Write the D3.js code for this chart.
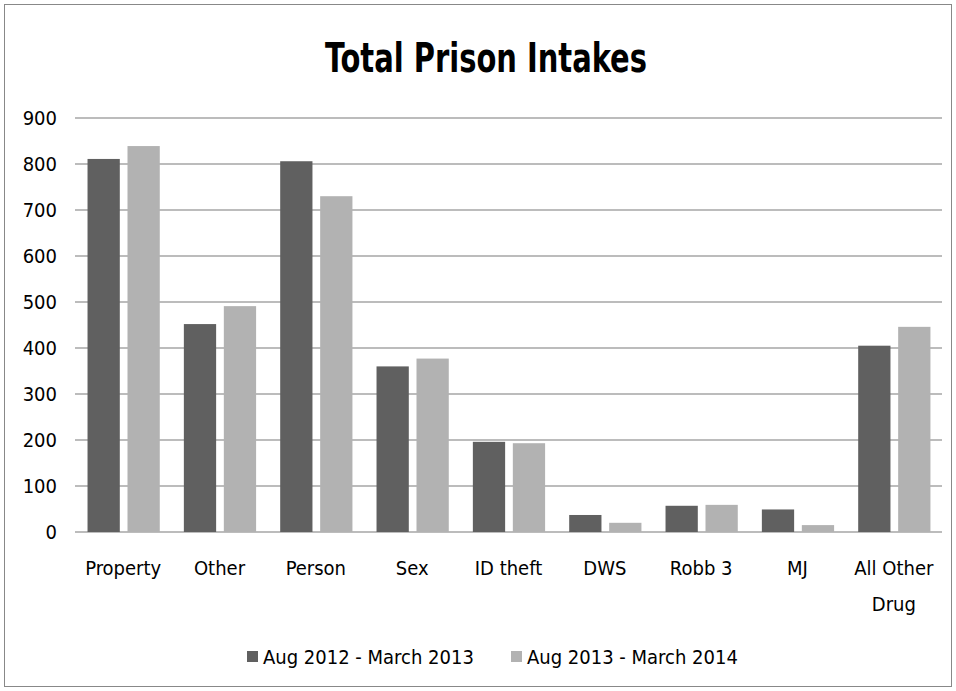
<!DOCTYPE html>
<html><head><meta charset="utf-8">
<script src="https://cdn.jsdelivr.net/npm/d3@7"></script>
<style>
body{margin:0;background:#fff;}
text{font-family:"Liberation Sans Narrow","DejaVu Sans Condensed","Open Sans",sans-serif;fill:#000;}
</style></head><body>
<svg id="c" width="956" height="691"></svg>
<script>
const categories = ["Property","Other","Person","Sex","ID theft","DWS","Robb 3","MJ","All Other Drug"];
const series1 = [811, 452, 806, 360, 196, 37, 57, 49, 405];
const series2 = [839, 491, 730, 377, 193, 20, 59, 15, 446];
const seriesNames = ["Aug 2012 - March 2013", "Aug 2013 - March 2014"];
const colors = ["#606060", "#b2b2b2"];
const yTicks = [0,100,200,300,400,500,600,700,800,900];

const svg = d3.select("#c");
svg.append("rect").attr("x",4.5).attr("y",4.5).attr("width",947).attr("height",682)
  .attr("fill","#fff").attr("stroke","#888").attr("stroke-width",1);

const L=75, R=942, T=118, B=532;
const x = d3.scaleBand().domain(categories).range([L,R]);
const y = d3.scaleLinear().domain([0,900]).range([B,T]);

svg.append("text").attr("x",486).attr("y",72).attr("text-anchor","middle")
  .attr("font-size",40).attr("font-weight","bold")
  .attr("textLength",322).attr("lengthAdjust","spacingAndGlyphs").text("Total Prison Intakes");

const grid = svg.append("g");
grid.selectAll("line").data(yTicks).join("line")
  .attr("x1",L).attr("x2",R).attr("y1",d=>y(d)).attr("y2",d=>y(d))
  .attr("stroke","#a6a6a6").attr("stroke-width",1.5);

const yAxis = svg.append("g").attr("transform",`translate(${L},0)`)
  .call(d3.axisLeft(y).tickValues(yTicks).tickSize(0).tickPadding(18));
yAxis.select(".domain").remove();
yAxis.selectAll("text").attr("font-size",20).style("font-family","'Liberation Sans Narrow','DejaVu Sans Condensed',sans-serif");

const bw = x.bandwidth();
const barW = bw*0.335;
const g = svg.append("g");
const data = categories.map((c,i)=>({c, v:[series1[i], series2[i]]}));
[0,1].forEach(s=>{
  g.selectAll(".b"+s).data(data).join("rect")
    .attr("x",d=>x(d.c)+bw*0.13 + s*bw*0.415)
    .attr("width",barW)
    .attr("y",d=>y(d.v[s]))
    .attr("height",d=>B-y(d.v[s]))
    .attr("fill",colors[s]);
});

const xl = svg.append("g");
data.forEach(d=>{
  const words = d.c==="All Other Drug" ? ["All Other","Drug"] : [d.c];
  const t = xl.append("text").attr("x",x(d.c)+bw/2).attr("y",575)
    .attr("text-anchor","middle").attr("font-size",20);
  words.forEach((w,i)=>t.append("tspan").attr("x",x(d.c)+bw/2).attr("dy",i?36:0).text(w));
});

const leg = svg.append("g");
const legX = [247, 511];
seriesNames.forEach((n,i)=>{
  leg.append("rect").attr("x",legX[i]).attr("y",651).attr("width",11).attr("height",11).attr("fill",colors[i]);
  leg.append("text").attr("x",legX[i]+16).attr("y",664).attr("font-size",20).text(n);
});
</script>
</body></html>
